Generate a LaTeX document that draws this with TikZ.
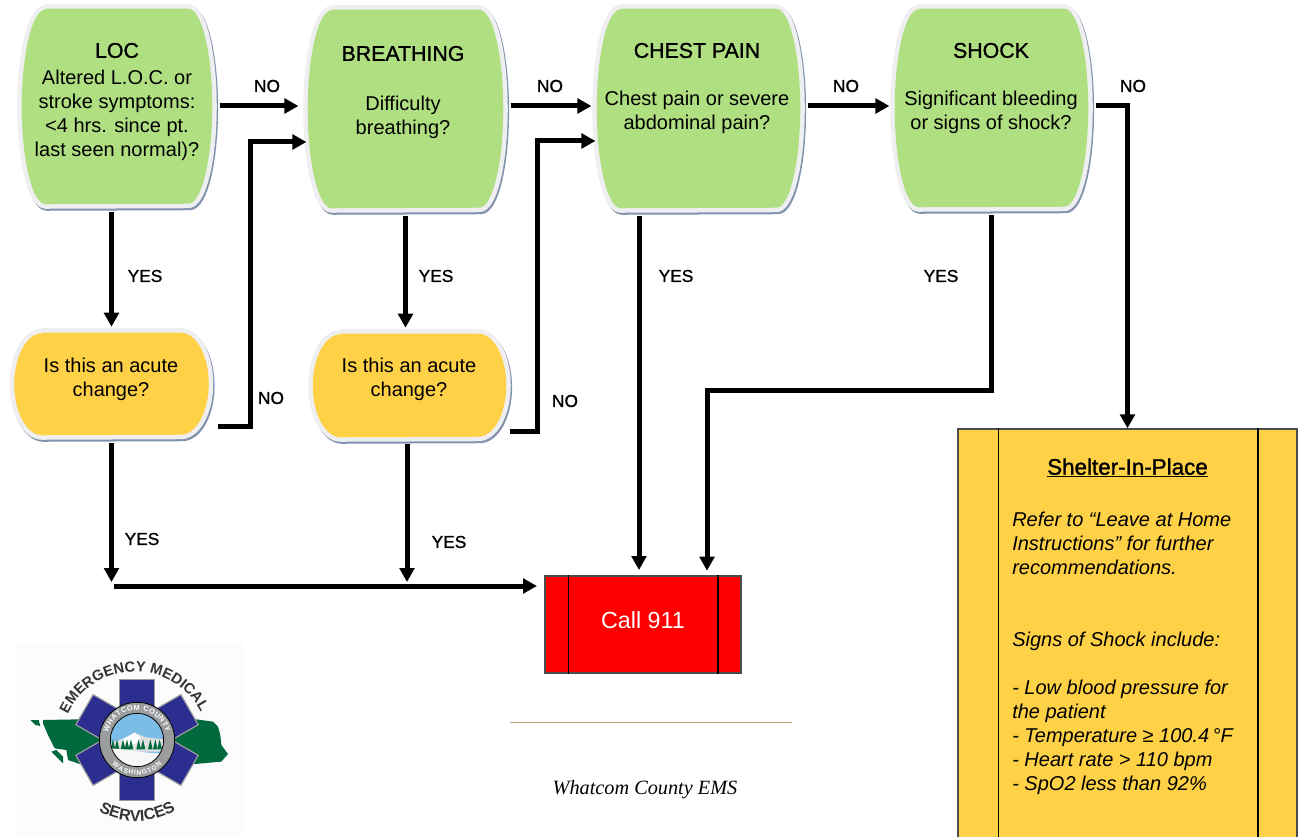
\documentclass[tikz,border=0pt]{standalone}
\usepackage{fontspec}
\setmainfont{Liberation Sans}
\newfontfamily\headfont[FakeBold=1.2]{Liberation Sans}
\newfontfamily\captionfont{Liberation Serif}
\usetikzlibrary{calc,arrows.meta,decorations.text}

\definecolor{boxgreen}{RGB}{176,223,130}
\definecolor{boxorange}{RGB}{255,209,71}
\definecolor{boxrim}{RGB}{239,239,241}
\definecolor{boxshade}{RGB}{128,146,172}
\definecolor{starblue}{RGB}{43,46,143}
\definecolor{ringgray}{RGB}{154,156,158}
\definecolor{mapgreen}{RGB}{0,105,62}

\tikzset{
  flowarrow/.style={line width=3.75pt,-{Triangle[length=10.5pt,width=11pt]},
    shorten <=5.5pt,shorten >=5.5pt},
  barline/.style={line width=1.25pt,black},
  flowlabel/.style={font=\headfont\fontsize{13}{18}\selectfont,inner sep=0pt},
  boxtext/.style={font=\fontsize{15}{18}\selectfont,align=center,inner sep=0pt},
  boxhead/.style={font=\headfont\fontsize{16}{18}\selectfont,inner sep=0pt},
  blockbox/.style={draw=black!70,line width=1pt,inner sep=0pt}
}

% name, x, y, width, height, bulge, colour
\newcommand{\bulgebox}[7]{
  \node[minimum width=#4*0.75pt,minimum height=#5*0.75pt,inner sep=0pt] (#1) at (#2,#3) {};
  \def\bulgeshape{($(#1.north west)+(#6*0.75pt,0)$) -- ($(#1.north east)+(-#6*0.75pt,0)$)
    arc[start angle=90,end angle=-90,x radius=#6*0.75pt,y radius=#5*0.375pt]
    -- ($(#1.south west)+(#6*0.75pt,0)$)
    arc[start angle=270,end angle=90,x radius=#6*0.75pt,y radius=#5*0.375pt] -- cycle}
  \draw[boxshade,line width=6.75pt,line join=round,transform canvas={shift={(1pt,-1.5pt)}}] \bulgeshape;
  \draw[draw=boxrim,line width=6.75pt,line join=round] \bulgeshape;
  \fill[#7] \bulgeshape;
}

\begin{document}
\begin{tikzpicture}[x=0.75pt,y=-0.75pt]
\clip (0,0) rectangle (1301,837);

\bulgebox{loc}{117}{106.5}{190}{195}{24}{boxgreen}
\bulgebox{breathing}{405.5}{109}{195}{198}{24}{boxgreen}
\bulgebox{chest}{698.5}{108.5}{203}{199}{24}{boxgreen}
\bulgebox{shock}{991.5}{108}{193}{198}{24}{boxgreen}
\bulgebox{acutea}{111.5}{384}{194}{102}{28}{boxorange}
\bulgebox{acuteb}{409.5}{385.5}{193}{103}{28}{boxorange}

\node[boxhead] (lochead) at (117,50.5) {LOC};
\node[boxtext] (loctext) at (117,115) {Altered L.O.C. or\\stroke symptoms:\\<4 hrs. since pt.\\last seen normal)?};
\node[boxhead] (breathinghead) at (403,53.5) {BREATHING};
\node[boxtext] (breathingtext) at (403,117) {Difficulty\\breathing?};
\node[boxhead] (chesthead) at (697,50.5) {CHEST PAIN};
\node[boxtext] (chesttext) at (697,112.5) {Chest pain or severe\\abdominal pain?};
\node[boxhead] (shockhead) at (991,50.5) {SHOCK};
\node[boxtext] (shocktext) at (991,112) {Significant bleeding\\or signs of shock?};
\node[boxtext] (acuteatext) at (111,379) {Is this an acute\\change?};
\node[boxtext] (acutebtext) at (409,379) {Is this an acute\\change?};

\node[blockbox,fill=red,minimum width=196*0.75pt,minimum height=97*0.75pt] (call) at (643,624.5) {};
\node[text=white,font=\fontsize{17.5}{20}\selectfont,inner sep=0pt] (calltext) at (643,620.5) {Call 911};
\draw[barline] ([xshift=18pt]call.north west) -- ([xshift=18pt]call.south west);
\draw[barline] ([xshift=-18pt]call.north east) -- ([xshift=-18pt]call.south east);

\node[blockbox,fill=boxorange,minimum width=339*0.75pt,minimum height=450*0.75pt] (shelter) at (1127.5,654) {};
\draw[barline] ([xshift=30.75pt]shelter.north west) -- ([xshift=30.75pt]shelter.south west);
\draw[barline] ([xshift=-30pt]shelter.north east) -- ([xshift=-30pt]shelter.south east);
\node[font=\headfont\fontsize{16.8}{20}\selectfont,inner sep=0pt] (sheltertitle) at (1127.5,468) {\underline{Shelter-In-Place}};
\node[anchor=north west,align=left,inner sep=0pt,font=\fontsize{15}{18}\selectfont\itshape] (sheltertext) at (1012,512) {%
  Refer to “Leave at Home\\Instructions” for further\\recommendations.\\[36pt]
  Signs of Shock include:\\[18pt]
  - Low blood pressure for\\the patient\\- Temperature ≥ 100.4\,°F\\- Heart rate > 110 bpm\\- SpO2 less than 92\%};

% row of the NO arrows
\coordinate (norow) at (0,106);
\coordinate (busstart) at (114,586);
\coordinate (calla) at (639,576);
\coordinate (callb) at (707,576);
\coordinate (shockbend) at (707,390);
\coordinate (bendloc) at (250,142);
\coordinate (bendbreath) at (537,141);

\draw[flowarrow,shorten >=7pt] (loc.east |- norow) -- (breathing.west |- norow);
\draw[flowarrow,shorten >=4pt] (breathing.east |- norow) -- (chest.west |- norow);
\draw[flowarrow,shorten >=4pt] (chest.east |- norow) -- (shock.west |- norow);
\draw[flowarrow,shorten >=0pt] (shock.east |- norow) -| (shelter.north);

\draw[flowarrow,shorten <=7pt,shorten >=1pt] (acutea.east |- 0,426) -| (bendloc) -- (breathing.west |- bendloc);
\draw[flowarrow,shorten <=3pt,shorten >=1pt] (acuteb.east |- 0,431) -| (bendbreath) -- (chest.west |- bendbreath);

\draw[flowarrow,shorten >=4.5pt] (acutea.north |- loc.south) -- (acutea.north);
\draw[flowarrow,shorten >=4.5pt] (breathing.south) -- (breathing.south |- acuteb.north);
\draw[flowarrow,shorten >=4.5pt] (calla |- chest.south) -- (calla);
\draw[flowarrow,shorten >=4pt] (shock.south) |- (shockbend) -- (callb);

\draw[flowarrow,shorten >=3pt] (acutea.south) -- (acutea.south |- busstart);
\draw[flowarrow,shorten >=3pt] (407,437) -- (407,586);
\draw[flowarrow,shorten <=0pt] (busstart) -- (busstart -| call.west);

\node[flowlabel] (noa) at (267,86) {NO};
\node[flowlabel] (nob) at (550,86) {NO};
\node[flowlabel] (noc) at (846,86) {NO};
\node[flowlabel] (nod) at (1133,86) {NO};
\node[flowlabel] (noe) at (271,398) {NO};
\node[flowlabel] (nof) at (565,401) {NO};
\node[flowlabel] (yesa) at (145,276) {YES};
\node[flowlabel] (yesb) at (436,276) {YES};
\node[flowlabel] (yesc) at (676,276) {YES};
\node[flowlabel] (yesd) at (941,276) {YES};
\node[flowlabel] (yese) at (142,539) {YES};
\node[flowlabel] (yesf) at (449,542) {YES};

\coordinate (rulea) at (510,722);
\coordinate (ruleb) at (792,722);
\draw[color={rgb,255:red,196;green,160;blue,120},line width=0.75pt] (rulea) -- (ruleb);
\node[font=\captionfont\itshape\fontsize{15.2}{18}\selectfont,inner sep=0pt] (caption) at (645,790) {Whatcom County EMS};

% logo, drawn in units of a third of a pixel around the star
\begin{scope}[shift={(137,740)},x=0.25pt,y=0.25pt]
\fill[black!1] (-362,295) rectangle (318,-290);
\fill[mapgreen] (-282,60) -- (-172,62) -- (178,62) -- (228,55) -- (243,40) -- (250,15) -- (253,-15)
  -- (273,-42) -- (253,-65) -- (173,-72) -- (-172,-72) -- (-207,-60) -- (-212,-30) -- (-247,-25)
  -- (-267,15) -- (-282,50) -- cycle;
\fill[mapgreen] (-320,60) -- (-295,60) -- (-290,42) -- (-305,45) -- cycle;
\fill[mapgreen] (-257,-35) -- (-222,-70) -- (-222,-50) -- (-242,-30) -- cycle;
\foreach \Arm in {0,60,120}
  \draw[rotate=\Arm,fill=starblue,draw=ringgray,line width=0.9pt] (-52,-182) rectangle (52,182);
\draw[fill=ringgray,draw=black,line width=0.6pt] (0,0) circle [radius=113];
\begin{scope}
\clip (0,0) circle [radius=80];
\fill[color={rgb,255:red,124;green,189;blue,232}] (-80,-80) rectangle (80,80);
\fill[black!12] (-80,-8) -- (-35,5) -- (-7,22) -- (25,8) -- (80,2) -- (80,-35) -- (-80,-35) -- cycle;
\fill[white] (-48,0) -- (-7,22) -- (10,8) -- (-5,-12) -- (-30,-15) -- cycle;
\foreach \Tree in {-72,-60,-42,-30,-18,5,18,40,55,68}
  \fill[mapgreen] (\Tree-7,-28) -- (\Tree,2) -- (\Tree+7,-28) -- cycle;
\fill[black!3] (-80,-25) .. controls (-20,-28) and (30,-42) .. (80,-40) -- (80,-80) -- (-80,-80) -- cycle;
\end{scope}
\draw[black,line width=0.6pt] (0,0) circle [radius=80];
\path[decorate,decoration={text along path,text align=fit to path,
  text={|\fontsize{5.5}{7}\selectfont\bfseries\color{white}|WHATCOM COUNTY}}]
  (-87,23) arc [start angle=165,end angle=15,radius=90];
\path[decorate,decoration={text along path,text align=fit to path,
  text={|\fontsize{5}{7}\selectfont\bfseries\color{white}|WASHINGTON}}]
  (-74,-74) arc [start angle=225,end angle=315,radius=105];
\path[decorate,decoration={text along path,text align=fit to path,
  text={|\fontsize{11}{14}\selectfont\bfseries\color{black!80}|EMERGENCY MEDICAL}}]
  (-208,77) arc [start angle=155,end angle=27,radius=222];
\path[decorate,decoration={text along path,text align=fit to path,
  text={|\fontsize{12}{14}\selectfont\bfseries\color{black!80}|SERVICES}}]
  (-115,-213) arc [start angle=240,end angle=300,radius=228];
\end{scope}
\end{tikzpicture}
\end{document}
